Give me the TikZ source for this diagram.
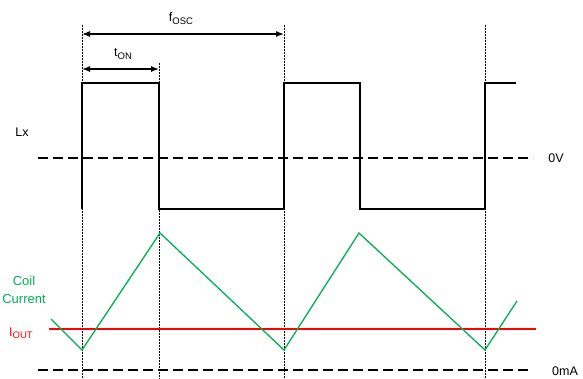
\documentclass[tikz,border=0pt]{standalone}
\usepackage{fontspec}
\setmainfont{Liberation Sans}
\usetikzlibrary{positioning,arrows.meta}
\definecolor{coilgreen}{RGB}{0,176,80}
\newcommand{\sublbl}[1]{\raisebox{-2.5pt}{\fontsize{9.5}{11}\selectfont #1}}
\begin{document}
\begin{tikzpicture}[x=1pt,y=-1pt,>={Latex[length=8pt,width=6pt]}]
  \tikzstyle{lbl} = [inner sep=0pt, anchor=base, font=\fontsize{12.5}{15}\selectfont]
  \tikzstyle{zeroline} = [line width=1.3pt, dash pattern=on 10pt off 5pt]
  \tikzstyle{tickline} = [line width=1pt, dash pattern=on 2pt off 1pt]
  \tikzstyle{wave} = [line width=1.6pt, line join=miter]
  \useasboundingbox (0,0) rectangle (583,379);
  % switching instants
  \foreach \n/\x/\y in {a/82/25, b/159/63, c/284/25, d/485/25}{
    \coordinate (\n top) at (\x,\y); \coordinate (\n bot) at (\x,379);
    \draw[tickline] (\n top) -- (\n bot);}
  % zero levels
  \coordinate (v0l) at (38,158); \coordinate (v0r) at (533,158);
  \coordinate (i0l) at (38,370); \coordinate (i0r) at (530,370);
  \draw[zeroline] (v0l) -- (v0r); \draw[zeroline] (i0l) -- (i0r);
  \node[lbl] (zv) at (556,163) {0V};
  \node[lbl] (zi) at (565,375) {0mA};
  % Lx waveform
  \node[lbl] (lx) at (22,137) {Lx};
  \draw[wave] (82,209) |- (159,83) |- (284,209) |- (360,83) |- (485,209)
  |- (516,83);
  % periods
  \coordinate (fa) at (82,34); \coordinate (fb) at (284,34);
  \coordinate (ta) at (82,69); \coordinate (tb) at (159,69);
  \draw[<->, line width=1.2pt] (fa) -- (fb);
  \draw[<->, line width=1.2pt] (ta) -- (tb);
  \node[lbl] (fosc) at (181,22) {f\sublbl{OSC}};
  \node[lbl] (ton) at (123,57) {t\sublbl{ON}};
  % coil current
  \coordinate (il) at (49,329); \coordinate (ir) at (536,329);
  \draw[red, line width=1.3pt] (il) -- (ir);
  \node[lbl, red] (iout) at (21,336) {I\sublbl{OUT}};
  \draw[coilgreen, line width=1.3pt] (51,319) -- (82,350) -- (160,233)
  -- (284,350) -- (359,233) -- (485,350) -- (517,301);
  \node[lbl, coilgreen, font=\fontsize{13}{15}\selectfont] (coil) at (24,285) {Coil};
  \node[lbl, coilgreen, font=\fontsize{13}{15}\selectfont] (curr) at (24,303) {Current};
\end{tikzpicture}
\end{document}
